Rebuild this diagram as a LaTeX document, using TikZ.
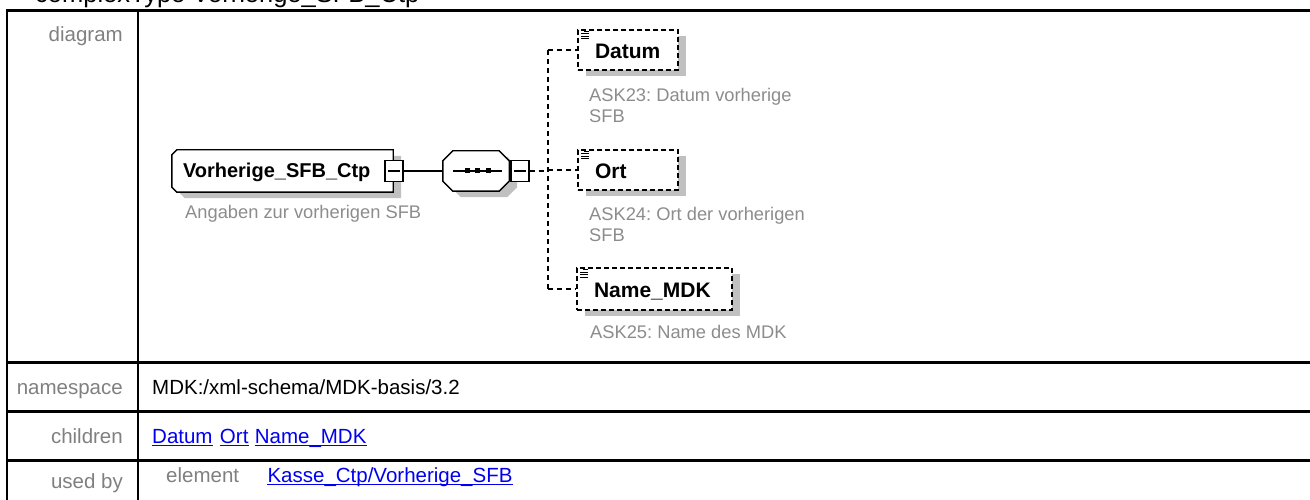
\documentclass[tikz,border=0pt]{standalone}
\usepackage{fontspec}
\setmainfont{Liberation Sans}
\frenchspacing
\usetikzlibrary{positioning, shadows, backgrounds}
\definecolor{xsgray}{HTML}{808080}
\definecolor{xsnote}{HTML}{8C8C8C}
\definecolor{xsshade}{HTML}{C0C0C0}
\definecolor{xslink}{HTML}{0000EE}
\tikzset{
  every picture/.style={font=\fontsize{20.5}{24}\selectfont},
  tblline/.style={line width=2.2pt},
  rowlbl/.style={anchor=base east, inner sep=0pt, text=xsgray},
  rowval/.style={anchor=base west, inner sep=0pt},
  xlink/.style={rowval, text=xslink, text height=15pt, text depth=2.5pt,
    append after command={(\tikzlastnode.south west) edge[draw=xslink, line width=1pt] (\tikzlastnode.south east)}},
  % schema boxes carry a flat grey shadow
  boxshadow/.style={drop shadow={shadow xshift=8pt, shadow yshift=-6pt, fill=xsshade, opacity=1}},
  annot/.style={anchor=north west, inner sep=0pt, align=left, text=xsnote, font=\fontsize{18.3}{21}\selectfont},
  % outlines cut at the left corners / at all four corners of a node
  lcham/.style 2 args={insert path={([xshift=#2]#1.north west) -- (#1.north east) -- (#1.south east)
    -- ([xshift=#2]#1.south west) -- ([yshift=#2]#1.south west) -- ([yshift=-#2]#1.north west) -- cycle}},
  allcham/.style 2 args={insert path={([xshift=#2]#1.north west) -- ([xshift=-#2]#1.north east)
    -- ([yshift=-#2]#1.north east) -- ([yshift=#2]#1.south east) -- ([xshift=-#2]#1.south east)
    -- ([xshift=#2]#1.south west) -- ([yshift=#2]#1.south west) -- ([yshift=-#2]#1.north west) -- cycle}},
}

\begin{document}
\begin{tikzpicture}[x=1pt, y=-1pt]
  \tikzset{ctype/.style={font=\fontsize{20}{24}\selectfont\bfseries, text height=14pt, text depth=0pt,
             text width=199pt, align=left, inner xsep=11pt, inner ysep=0pt,
             minimum width=221pt, minimum height=42pt},
           seqbox/.style={minimum width=66pt, minimum height=40pt, inner sep=0pt},
           elembox/.style={draw, dash pattern=on 5pt off 3pt, line width=1.4pt, fill=white, boxshadow,
             font=\fontsize{21}{24}\selectfont\bfseries, text height=17pt, text depth=0pt,
             text width=#1, align=left, inner xsep=17pt, inner ysep=0pt, minimum height=40pt,
             path picture={\foreach \dy/\dx in {1.5/6, 4/3, 6.5/3, 9/3}
               \draw[solid, line width=1pt] ([xshift=\dx pt, yshift=-\dy pt]path picture bounding box.north west)
                 -- ([xshift=11pt, yshift=-\dy pt]path picture bounding box.north west);}},
           togbox/.style={draw, fill=white, line width=1.4pt, minimum width=18pt, minimum height=21pt,
             inner sep=0pt, path picture={\draw[line width=1.4pt] ([xshift=3pt]path picture bounding box.west)
               -- ([xshift=-3pt]path picture bounding box.east);}},
           tree/.style={line width=1.4pt},
           opttree/.style={tree, dash pattern=on 5pt off 4pt}}
  \useasboundingbox (0,0) rectangle (1310,500);
  \clip (0,0) rectangle (1310,500);
  % ---- heading, cut off by the top edge
  \node[anchor=base west, inner sep=0pt, font=\fontsize{25.5}{30}\selectfont] (title) at (35,3) {complexType Vorherige\_SFB\_Ctp};
  % ---- table frame
  \draw[tblline] (6,10.5) -- (1310,10.5);
  \foreach \y in {362.5, 411.5, 460.5} \draw[tblline] (6,\y) -- (1310,\y);
  \draw[tblline] (7,9.5) -- (7,500) (138,9.5) -- (138,500);
  % ---- table rows
  \node[rowlbl] (lbldiag) at (123,42) {diagram};
  \node[rowlbl] (lblns) at (123,394) {namespace};
  \node[rowval] (ns) at (152,394) {MDK:/xml-schema/MDK-basis/3.2};
  \node[rowlbl] (lblkids) at (123,443) {children};
  \node[xlink] (kiddatum) at (152,443) {Datum};
  \node[xlink, right=7pt of kiddatum] (kidort) {Ort};
  \node[xlink, right=6pt of kidort] (kidmdk) {Name\_MDK};
  \node[rowlbl] (lblused) at (123,488) {used by};
  \node[rowval, text=xsgray] (usedkind) at (166,482) {element};
  \node[xlink, right=28pt of usedkind.base east, anchor=base west] (usedel) {Kasse\_Ctp/Vorherige\_SFB};
  % ---- diagram: complex type, sequence, elements
  \node[ctype] (ctp) at (282.5,171) {Vorherige\_SFB\_Ctp};
  \node[seqbox] (seq) at (476,171) {};
  \begin{scope}[on background layer]
    \draw[tree, fill=white, boxshadow, lcham={ctp}{5pt}];
    \draw[tree, fill=white, boxshadow, allcham={seq}{10pt}];
  \end{scope}
  \node[togbox] (ctptog) at (394,171) {};
  \node[annot] (ctpdoc) at (185,205) {Angaben zur vorherigen SFB};
  \node[togbox] (seqtog) at (520,171) {};
  \draw[tree] (ctptog.east) -- (seq.west);
  \draw[tree] ([xshift=10pt]seq.west) -- ([xshift=-7pt]seq.east);
  \foreach \dx in {-9,1.5,12}
    \fill ([xshift=\dx pt]seq.center) +(-2.5,-2.5) rectangle +(2.5,2.5);
  \node[elembox=66pt] (datum) at (628,50) {Datum};
  \node[elembox=66pt] (ort) at (628,170) {Ort};
  \node[elembox=121pt, minimum height=42pt] (mdk) at (654.5,289) {Name\_MDK};
  \node[annot] (datumdoc) at (589,88) {ASK23: Datum vorherige\\SFB};
  \node[annot] (ortdoc) at (589,207) {ASK24: Ort der vorherigen\\SFB};
  \node[annot] (mdkdoc) at (590,325) {ASK25: Name des MDK};
  \coordinate (bus) at (548,171);
  \draw[opttree] (seqtog.east) -- (bus);
  \draw[opttree] (bus |- datum.west) -- (bus |- mdk.west);
  \foreach \c in {datum, ort, mdk}
    \draw[opttree] (bus |- \c.west) -- (\c.west);
\end{tikzpicture}
\end{document}
